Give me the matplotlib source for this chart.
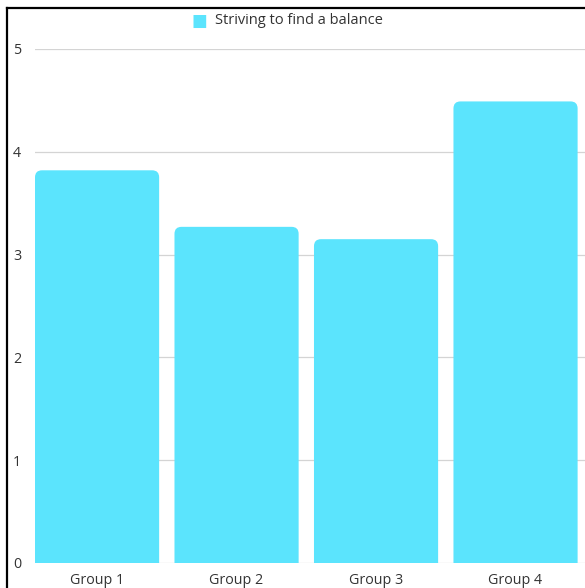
import matplotlib
matplotlib.use("Agg")
import matplotlib.pyplot as plt
from matplotlib.patches import FancyBboxPatch
from matplotlib.lines import Line2D

categories = ["Group 1", "Group 2", "Group 3", "Group 4"]
values = [3.82, 3.27, 3.15, 4.49]
series_name = "Striving to find a balance"
yticks = [0, 1, 2, 3, 4, 5]

W, H = 585, 588
fig = plt.figure(figsize=(W / 100, H / 100), dpi=100)
plt.rcParams['font.family'] = ['Open Sans', 'DejaVu Sans']

left, right, bottom, top = 35, 585, 563, 49
ax = fig.add_axes([left / W, 1 - bottom / H, (right - left) / W, (bottom - top) / H])
ax.set_xlim(-0.445, 3.498)
ax.set_ylim(0, 5)

color = "#5BE4FD"
width = 0.89
x = list(range(len(categories)))
bars = ax.bar(x, values, width=width, color=color, alpha=0)

px_x = (right - left) / (3.498 + 0.445)
px_y = (bottom - top) / 5
r = 7 / px_x
aspect = px_x / px_y
for b in bars:
    bx, by = b.get_x(), b.get_y()
    bw, bh = b.get_width(), b.get_height()
    p = FancyBboxPatch((bx, by - 0.2), bw, bh + 0.2,
                       boxstyle=f"round,pad=0,rounding_size={r}",
                       mutation_aspect=aspect, facecolor=color,
                       edgecolor="none", zorder=3)
    ax.add_patch(p)

ax.set_yticks(yticks)
ax.set_xticks(x)
ax.set_xticklabels(categories)
ax.grid(axis="y", color="#d4d4d4", linewidth=0.9)
ax.set_axisbelow(True)
for s in ax.spines.values():
    s.set_visible(False)
ax.tick_params(axis="both", length=0, labelsize=10.3, colors="#333333")
ax.tick_params(axis="y", pad=10)
ax.tick_params(axis="x", pad=7)

# legend
fig.text(199 / W, 1 - 20.5 / H, "\u25A0", color=color, fontsize=12,
         ha="center", va="center", family="DejaVu Sans")
fig.text(215 / W, 1 - 20.5 / H, series_name, color="#333333", fontsize=10.5,
         ha="left", va="center")

# frame lines
fig.add_artist(Line2D([7 / W, 7 / W], [0, 1 - 7.5 / H], color="black", lw=1.6,
                      transform=fig.transFigure))
fig.add_artist(Line2D([7 / W, 1], [1 - 7.5 / H, 1 - 7.5 / H], color="black", lw=1.6,
                      transform=fig.transFigure))

fig.savefig("out.png", dpi=100)
